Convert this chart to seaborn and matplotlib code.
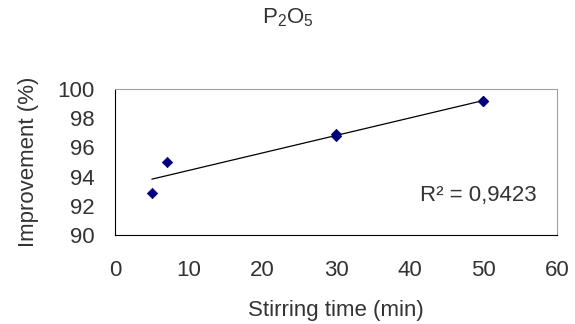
import numpy as np
import pandas as pd
import seaborn as sns
from matplotlib import pyplot as plt

# values
stirring_min = [5, 7, 30, 30, 50, 50]
improvement_pct = [92.9, 95.0, 96.75, 96.95, 99.15, 99.2]
r2_label = "R\u00b2 = 0,9423"

df = pd.DataFrame({"Stirring time (min)": stirring_min,
                   "Improvement (%)": improvement_pct})

sns.set_style("white")
plt.rcParams['font.family'] = ['Liberation Sans', 'DejaVu Sans']
plt.rcParams['mathtext.fontset'] = 'custom'
plt.rcParams['mathtext.rm'] = 'Liberation Sans'
plt.rcParams['mathtext.it'] = 'Liberation Sans'

txt = '#333333'
fs = 16
fig = plt.figure(figsize=(5.75, 3.24), dpi=100)
ax = fig.add_axes([0.2, 0.2747, 0.769, 0.4506])

# trend line (least squares through the points)
sns.regplot(data=df, x="Stirring time (min)", y="Improvement (%)", ax=ax,
            ci=None, truncate=True, scatter=False,
            line_kws=dict(color='black', lw=0.9))
sns.scatterplot(data=df, x="Stirring time (min)", y="Improvement (%)", ax=ax,
                marker='D', s=28, color='#00007a', edgecolor='#00007a',
                linewidth=0.5, zorder=3)

ax.set_xlim(0, 60)
ax.set_ylim(90, 100)
ax.set_xticks(range(0, 61, 10))
ax.set_yticks(range(90, 101, 2))
ax.tick_params(axis='both', direction='out', length=5, width=0.8,
               colors='black', labelcolor=txt, labelsize=fs)
ax.tick_params(axis='x', pad=13)
ax.tick_params(axis='y', pad=10)

for s in ['left', 'bottom']:
    ax.spines[s].set_color('black')
    ax.spines[s].set_linewidth(0.8)
for s in ['top', 'right']:
    ax.spines[s].set_color('#a0a0a0')
    ax.spines[s].set_linewidth(0.8)

ax.set_xlabel("Stirring time (min)", fontsize=fs, color=txt, labelpad=14)
ax.set_ylabel("Improvement (%)", fontsize=fs, color=txt, labelpad=13)

ax.text(49.3, 92.7, r2_label, fontsize=fs, color=txt, ha='center', va='center')

fig.suptitle("P$_2$O$_5$", x=0.5, y=1 - 18 / 324, va='center',
             fontsize=fs, color=txt)

plt.savefig('out.png', dpi=100)
